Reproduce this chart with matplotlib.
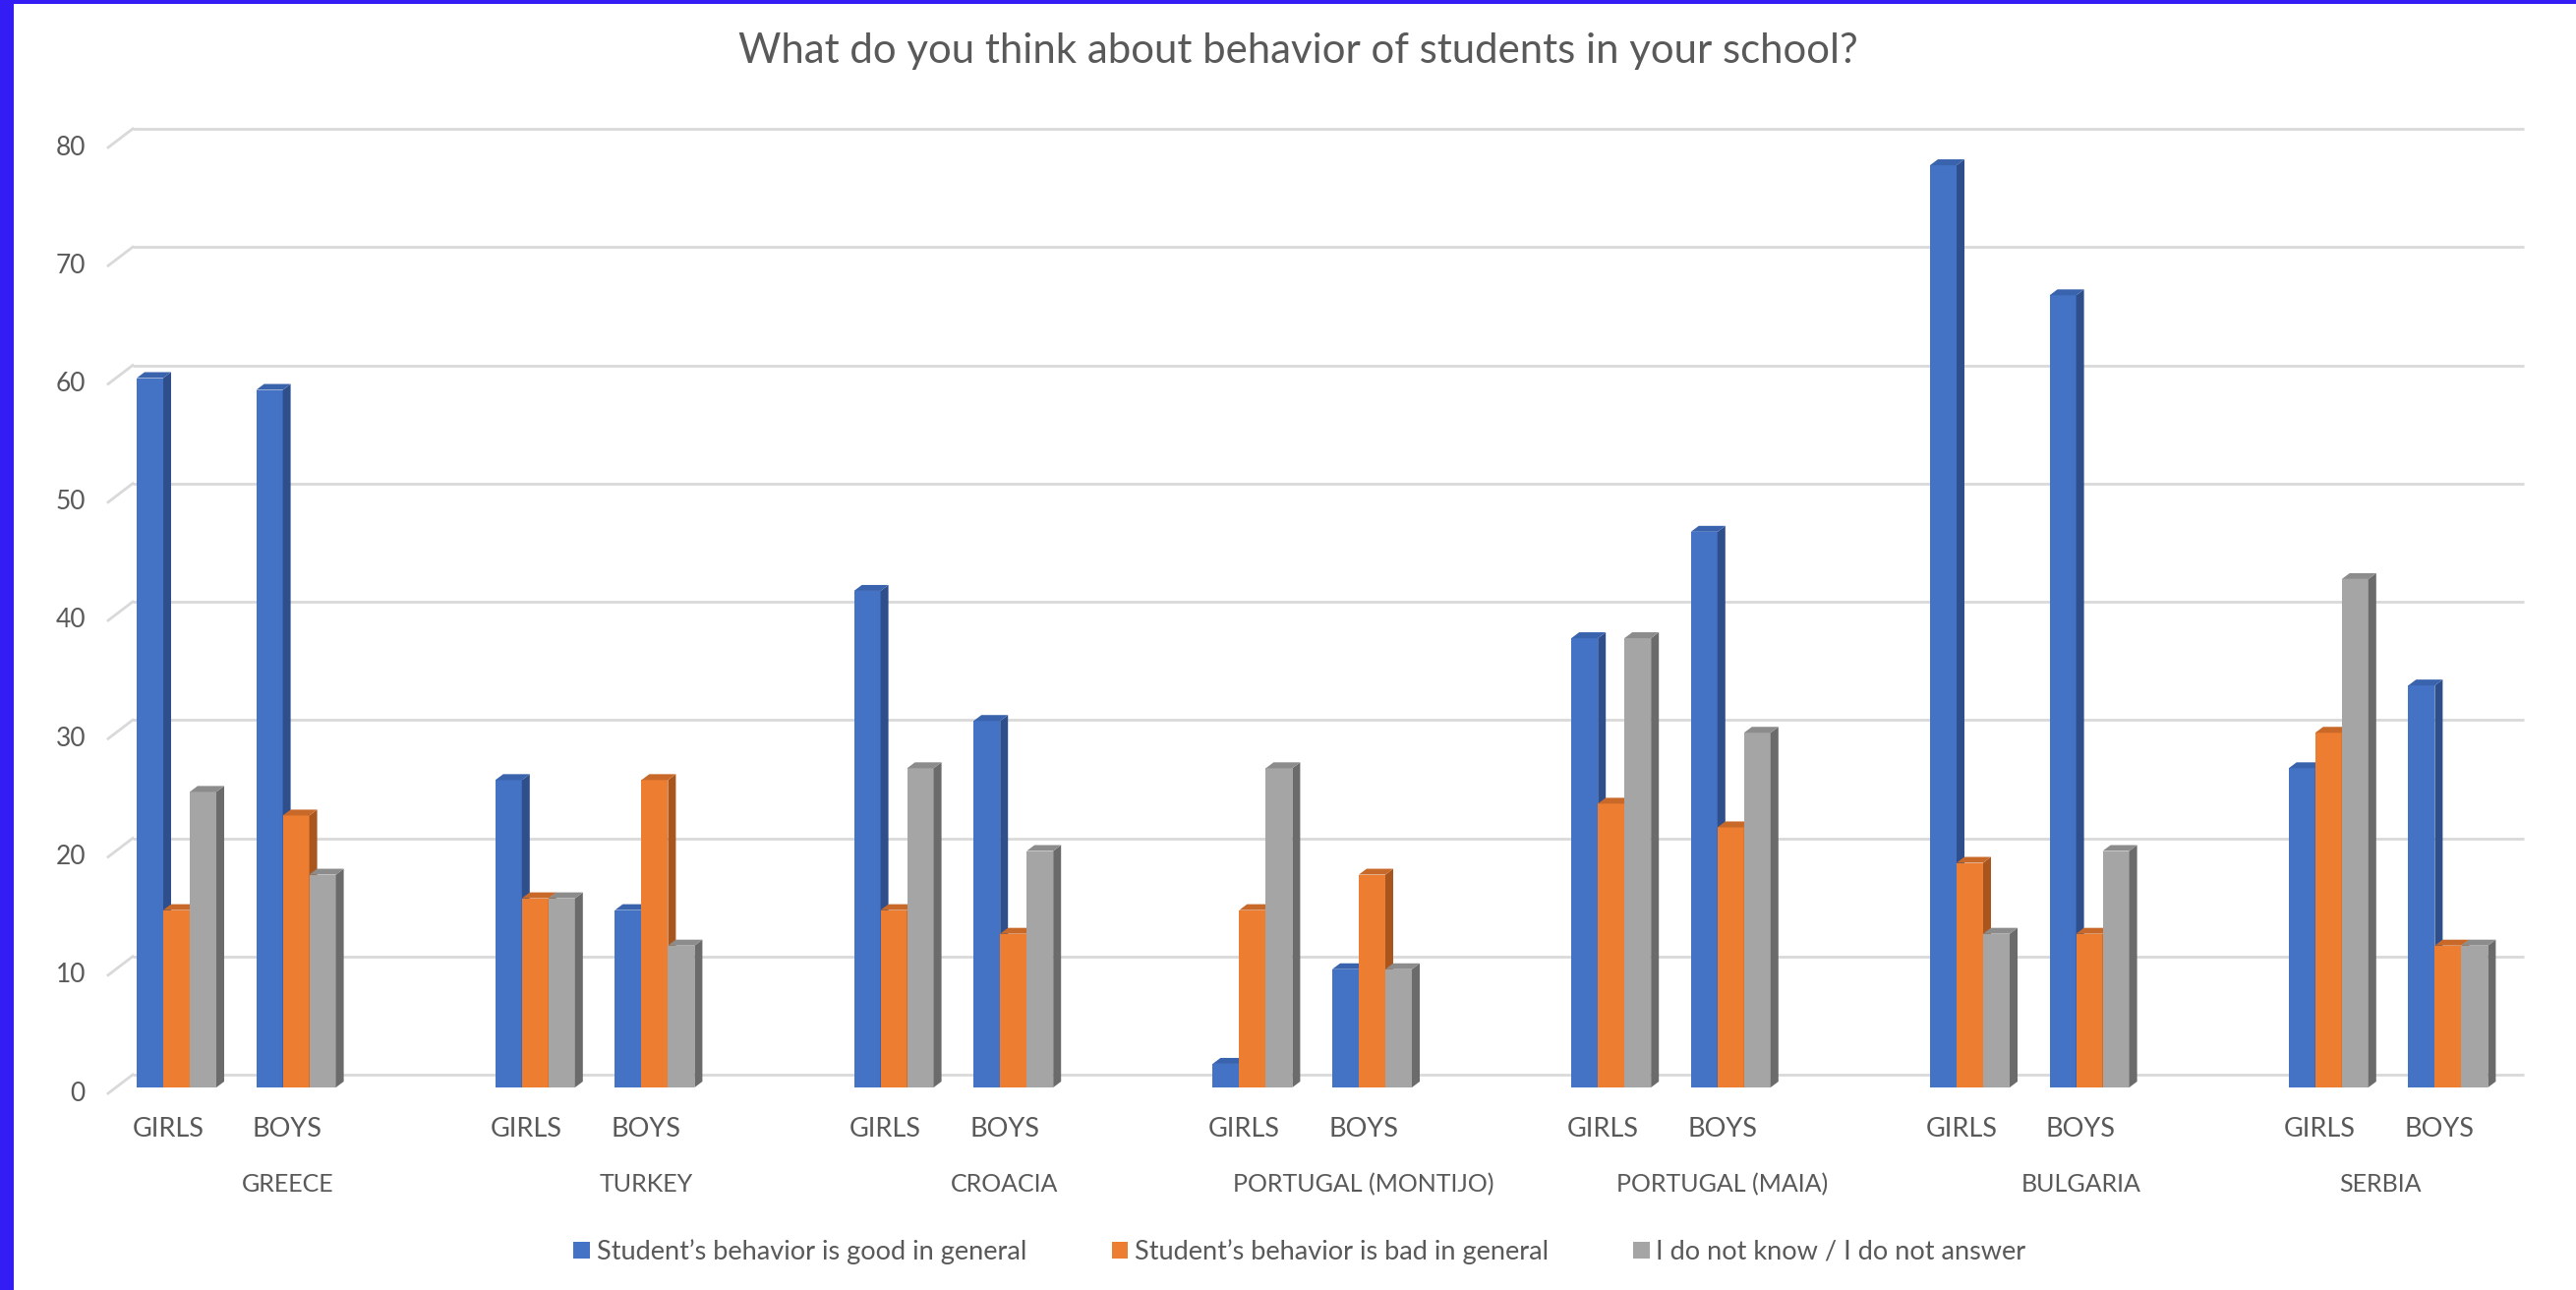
import matplotlib.pyplot as plt
from matplotlib.patches import Polygon, Rectangle

plt.rcParams['font.family'] = ['Lato', 'DejaVu Sans']

# data
countries = ["GREECE", "TURKEY", "CROACIA", "PORTUGAL (MONTIJO)",
             "PORTUGAL (MAIA)", "BULGARIA", "SERBIA"]
genders = ["GIRLS", "BOYS"]
series_names = ["Student’s behavior is good in general",
                "Student’s behavior is bad in general",
                "I do not know / I do not answer"]

# girls, boys for each country in order
good = [60, 59, 26, 15, 42, 31, 2, 10, 38, 47, 78, 67, 27, 34]
bad = [15, 23, 16, 26, 15, 13, 15, 18, 24, 22, 19, 13, 30, 12]
dont_know = [25, 18, 16, 12, 27, 20, 27, 10, 38, 30, 13, 20, 43, 12]

yticks = [0, 10, 20, 30, 40, 50, 60, 70, 80]

front_colors = ["#4472C4", "#ED7D31", "#A5A5A5"]
side_colors = ["#2E4E8C", "#A9561E", "#6B6B6B"]
top_colors = ["#3A63AE", "#C8692A", "#8C8C8C"]
text_color = "#595959"
grid_color = "#D9D9D9"

W, H = 2620, 1312
fig = plt.figure(figsize=(W / 100, H / 100), dpi=100)
fig.patch.set_facecolor("white")

# plot area (bar plane) in pixels
left_px, right_px, top_px, bottom_px = 118, 2550, 144, 1106
ax = fig.add_axes([left_px / W, 1 - bottom_px / H,
                   (right_px - left_px) / W, (bottom_px - top_px) / H])
n_slots = 3 * len(countries) - 1
ax.set_xlim(0, n_slots)
ax.set_ylim(0, 80)
ax.axis("off")

# pixel -> data conversion
sx = (right_px - left_px) / n_slots
sy = (bottom_px - top_px) / 80.0
def dx(px): return px / sx
def dy(px): return px / sy

# 3d offsets
bar_dx, bar_dy = dx(8), dy(6)          # bar depth
back_dx, back_dy = dx(17), dy(13)      # back wall relative to bar plane
front_dx, front_dy = dx(-8), dy(-6)    # front axis relative to bar plane

# gridlines on back wall + diagonal floor ticks
for v in yticks:
    ax.plot([back_dx, n_slots + back_dx], [v + back_dy, v + back_dy],
            color=grid_color, lw=2.0, zorder=1, clip_on=False,
            solid_capstyle="butt")
    ax.plot([front_dx, back_dx], [v + front_dy, v + back_dy],
            color=grid_color, lw=2.0, zorder=1, clip_on=False)
    ax.text(dx(-31), v + front_dy, str(v), ha="right", va="center",
            fontsize=19, color=text_color)

# bars
positions = [3 * k + g for k in range(len(countries)) for g in range(len(genders))]
bw = dx(27)
offset0 = dx(21)
handles = []
for j, vals in enumerate([good, bad, dont_know]):
    xs = [p + offset0 + j * bw for p in positions]
    zf = 3 + j
    b = ax.bar(xs, vals, width=bw, align="edge", color=front_colors[j],
               linewidth=0, zorder=zf, label=series_names[j])
    handles.append(b)
    for x, v in zip(xs, vals):
        side = Polygon([(x + bw, 0), (x + bw + bar_dx, bar_dy),
                        (x + bw + bar_dx, v + bar_dy), (x + bw, v)],
                       closed=True, facecolor=side_colors[j], linewidth=0,
                       zorder=zf + 0.5, clip_on=False)
        top = Polygon([(x, v), (x + bar_dx, v + bar_dy),
                       (x + bw + bar_dx, v + bar_dy), (x + bw, v)],
                      closed=True, facecolor=top_colors[j], linewidth=0,
                      zorder=zf + 0.5, clip_on=False)
        ax.add_patch(side)
        ax.add_patch(top)

# category labels
for k, c in enumerate(countries):
    for g, gname in enumerate(genders):
        ax.text(3 * k + g + 0.5 + front_dx, dy(-43), gname, ha="center",
                va="center", fontsize=19.5, color=text_color)
    span = 3 if k < len(countries) - 1 else 2
    ax.text(3 * k + span / 2 + front_dx, dy(-99), c, ha="center",
            va="center", fontsize=18, color=text_color)

# title
fig.text(1320 / W, 1 - 52 / H,
         "What do you think about behavior of students in your school?",
         ha="center", va="center", fontsize=30.2, color=text_color)

# legend
fig.legend(handles=handles, loc="center", bbox_to_anchor=(1322 / W, 1 - 1273 / H),
           ncol=3, frameon=False, fontsize=19.5, labelcolor=text_color,
           handlelength=0.6, handleheight=0.6, handletextpad=0.25,
           columnspacing=3.2)

# blue frame on left and top
fig.add_artist(Rectangle((0, 0), 14 / W, 1, transform=fig.transFigure,
                         facecolor="#341CF5", linewidth=0))
fig.add_artist(Rectangle((0, 1 - 4 / H), 1, 4 / H, transform=fig.transFigure,
                         facecolor="#341CF5", linewidth=0))

fig.savefig("out.png", dpi=100)
